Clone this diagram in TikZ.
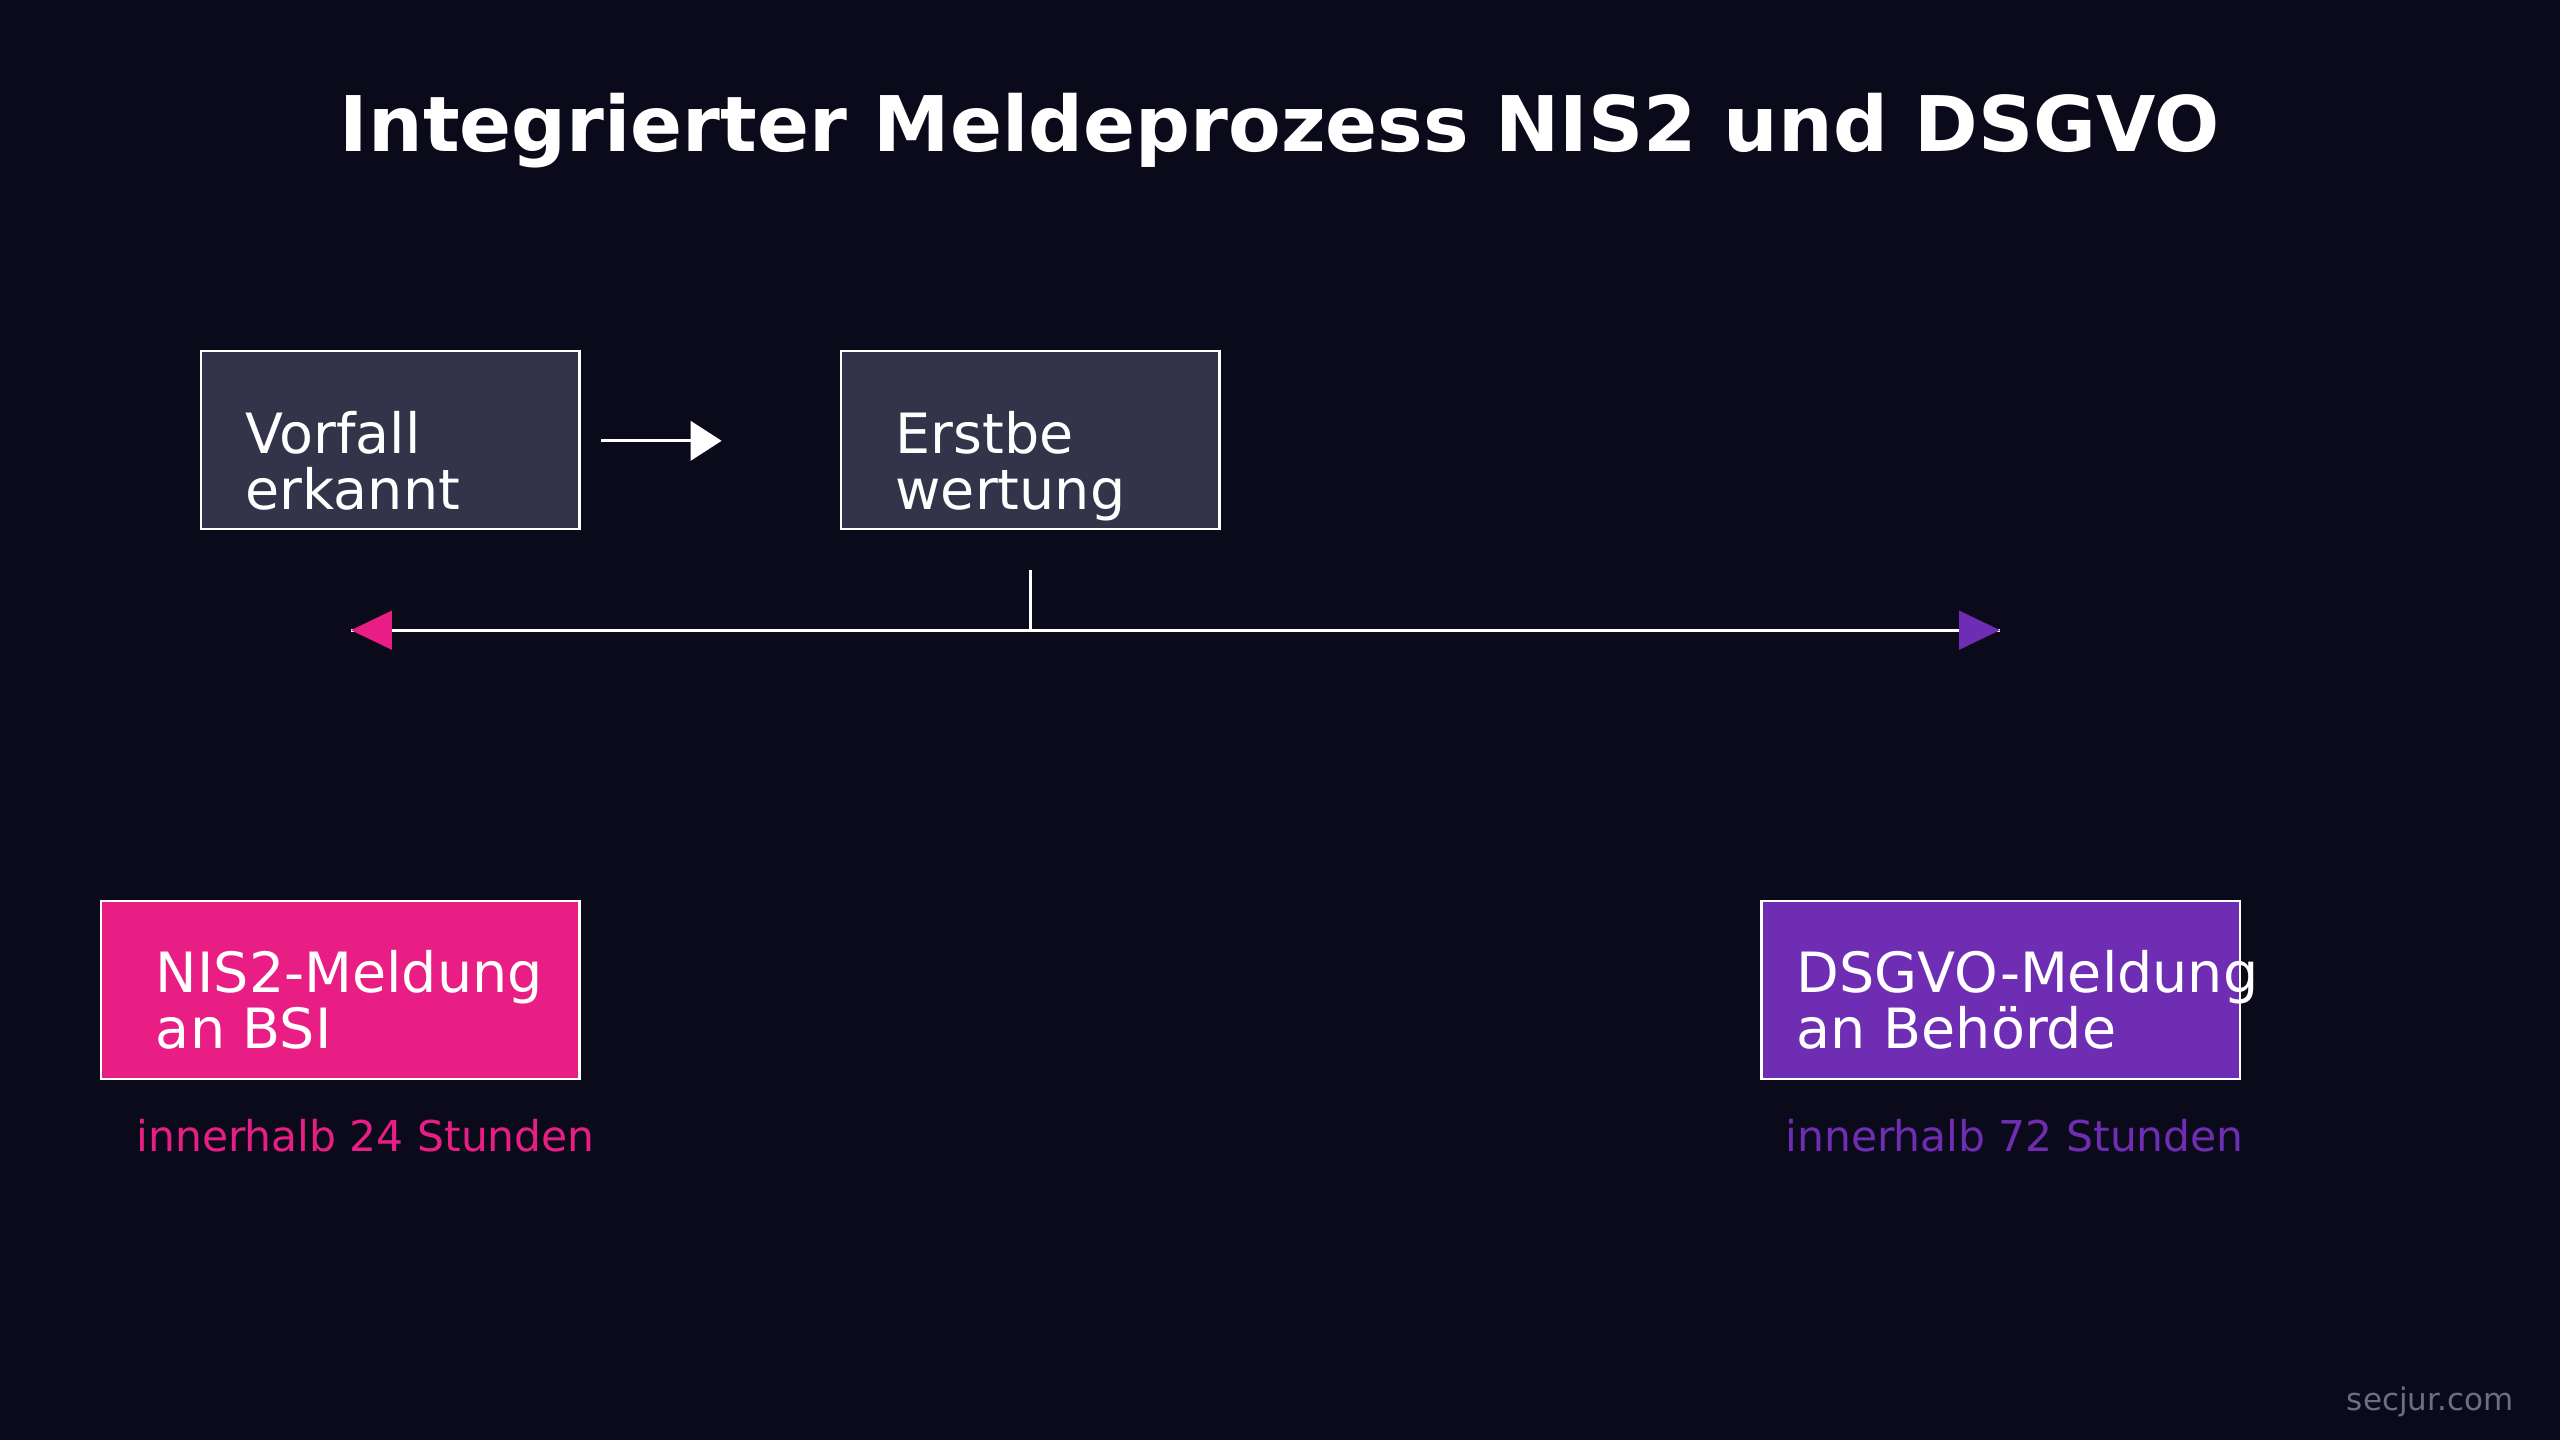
\documentclass[tikz,border=0pt]{standalone}
\usepackage{fontspec}
\setmainfont{DejaVu Sans}
\usetikzlibrary{arrows.meta}
\definecolor{bg}{HTML}{0B0A1B}
\definecolor{boxg}{HTML}{33334A}
\definecolor{pinkc}{HTML}{E91E84}
\definecolor{purpc}{HTML}{6F2DB3}
\definecolor{grayt}{HTML}{6E6E80}
\tikzset{
  box/.style={draw=white,line width=1.5pt,minimum width=232pt,minimum height=109pt,inner sep=0pt},
  btxt/.style={text=white,font=\fontsize{34}{34}\selectfont,align=left,anchor=base west},
  lab/.style={font=\fontsize{26}{26}\selectfont,anchor=base west},
}
\begin{document}
\begin{tikzpicture}[x=1pt,y=-1pt]
\fill[bg] (0,0) rectangle (1568,882);
\useasboundingbox (0,0) rectangle (1568,882);
\node[text=white,font=\bfseries\fontsize{47}{47}\selectfont] (title) at (784,80) {Integrierter Meldeprozess NIS2 und DSGVO};
\node[box,fill=boxg] (b1) at (239,269.5) {};
\node[btxt] (t1) at (147,278) {Vorfall};
\node[btxt] (t1b) at (147,312) {erkannt};
\node[box,fill=boxg] (b2) at (631,269.5) {};
\node[btxt] (t2) at (545,278) {Erstbe};
\node[btxt] (t2b) at (545,312) {wertung};
\coordinate (a1) at (368,270);
\coordinate (a2) at (442,270);
\draw[white,line width=2pt,-{Triangle[length=19pt,width=24pt]}] (a1) -- (a2);
\coordinate (v1) at (631,349);
\coordinate (v2) at (631,386);
\coordinate (hl) at (215,386);
\coordinate (hr) at (1225,386);
\draw[white,line width=2pt] (v1) -- (v2);
\draw[white,line width=2pt] (hl) -- (hr);
\fill[pinkc] (215,386) -- (240,374) -- (240,398) -- cycle;
\fill[purpc] (1225,386) -- (1200,374) -- (1200,398) -- cycle;
\node[box,fill=pinkc,minimum width=293pt] (b3) at (208.5,606.5) {};
\node[btxt] (t3) at (92,608) {NIS2-Meldung};
\node[btxt] (t3b) at (92,642) {an BSI};
\node[box,fill=purpc,minimum width=293pt] (b4) at (1225.5,606.5) {};
\node[btxt] (t4) at (1097,608) {DSGVO-Meldung};
\node[btxt] (t4b) at (1097,642) {an Behörde};
\node[lab,text=pinkc] (l3) at (80,705) {innerhalb 24 Stunden};
\node[lab,text=purpc] (l4) at (1090,705) {innerhalb 72 Stunden};
\node[font=\fontsize{19}{19}\selectfont,text=grayt,anchor=base east] (w) at (1543,864) {secjur.com};
\end{tikzpicture}
\end{document}
